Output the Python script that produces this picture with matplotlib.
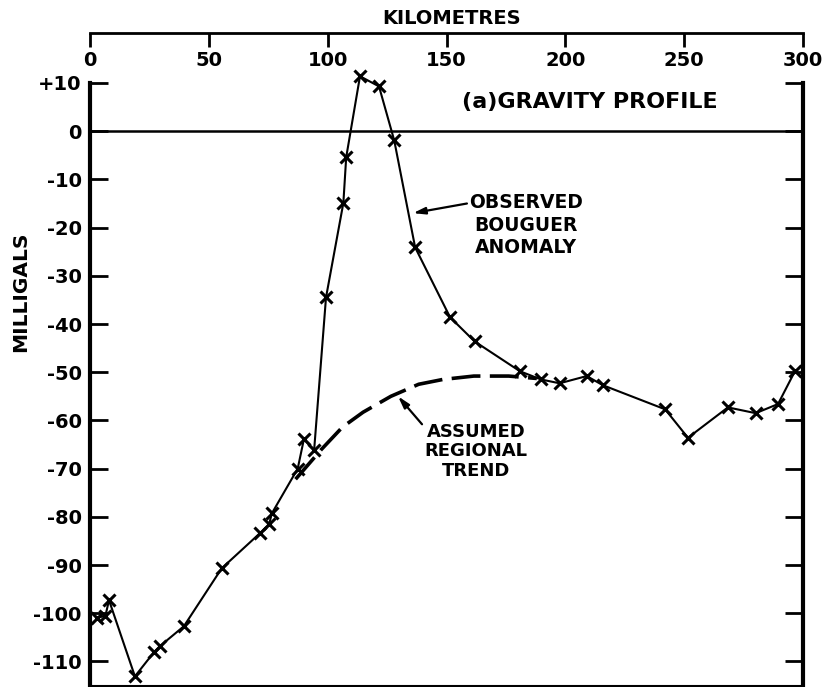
"""Gravity profile: observed Bouguer anomaly and assumed regional trend."""

import matplotlib
matplotlib.use("Agg")
import matplotlib.pyplot as plt

plt.rcParams["font.family"] = ["DejaVu Sans"]
plt.rcParams["font.weight"] = "bold"

# Observed Bouguer anomaly (km, mGal)
obs_km = [3.0, 6.5, 8.0, 18.9, 26.9, 29.5, 39.5, 55.4, 71.5, 75.4, 76.5,
          87.4, 90.0, 94.3, 99.3, 106.6, 107.8, 113.6, 121.6, 128.0, 136.8,
          151.5, 161.8, 180.9, 189.7, 197.6, 209.0, 215.8, 242.0, 251.6,
          268.4, 280.1, 289.5, 296.6]
obs_mgal = [-101.0, -100.5, -97.3, -113.1, -108.1, -106.8, -102.7, -90.7,
            -83.4, -81.5, -79.3, -70.0, -63.9, -66.2, -34.5, -14.9, -5.4,
            11.4, 9.3, -1.9, -24.1, -38.6, -43.6, -49.8, -51.5, -52.3,
            -50.8, -52.7, -57.7, -63.6, -57.3, -58.5, -56.6, -49.8]

# Assumed regional trend (dashed)
trend_km = [86.5, 97.4, 106.2, 114.9, 126.6, 138.3, 148.5, 161.5, 176.2, 188.0]
trend_mgal = [-72.2, -66.0, -61.4, -58.3, -55.0, -52.5, -51.5, -50.8, -50.8, -51.3]

y_ticks = list(range(-110, 11, 10))
y_labels = ["+10" if v > 0 else str(v) for v in y_ticks]
km_ticks = list(range(0, 301, 50))

W, H = 824, 687
fig = plt.figure(figsize=(W / 100, H / 100), dpi=100)

# main plot area
ax = fig.add_axes([90 / W, 1 / H, 713 / W, 603 / H])
ax.set_xlim(0, 300)
ax.set_ylim(-115.1, 10)

ax.axhline(0, color="k", lw=1.8)
ax.plot(trend_km, trend_mgal, color="k", lw=2.6, dashes=(8, 2.6),
        solid_capstyle="butt", dash_capstyle="butt")
ax.plot(obs_km, obs_mgal, color="k", lw=1.5, marker="x", ms=9, mew=2.2,
        clip_on=False)

ax.spines["top"].set_visible(False)
ax.spines["left"].set_linewidth(3)
ax.spines["right"].set_linewidth(3)
ax.spines["bottom"].set_linewidth(1.5)

ax.set_xticks([])
ax.set_yticks(y_ticks)
ax.set_yticklabels(y_labels)
ax.tick_params(axis="y", direction="in", length=13, width=2, right=True,
               labelright=False, labelsize=14, pad=6)

# annotations
ax.text(210.4, 6.0, "(a)GRAVITY PROFILE", fontsize=16, weight="bold",
        ha="center", va="center")
ax.annotate("", xy=(135.9, -17.0), xytext=(158.6, -15.0),
            arrowprops=dict(arrowstyle="-|>,head_length=0.7,head_width=0.2",
                            lw=1.6, color="k", shrinkA=0, shrinkB=0))
for label, yv in zip(["OBSERVED", "BOUGUER", "ANOMALY"], [-14.7, -19.5, -24.2]):
    ax.text(183.6, yv, label, fontsize=13.5, weight="bold", ha="center", va="center")

ax.annotate("", xy=(129.6, -55.0), xytext=(139.7, -60.8),
            arrowprops=dict(arrowstyle="-|>,head_length=0.7,head_width=0.2",
                            lw=1.6, color="k", shrinkA=0, shrinkB=0))
for label, yv in zip(["ASSUMED", "REGIONAL", "TREND"], [-62.4, -66.4, -70.4]):
    ax.text(162.4, yv, label, fontsize=13, weight="bold", ha="center", va="center")

# kilometre scale above the plot
ax_km = fig.add_axes([90 / W, 1 - 33 / H, 713 / W, 0.0001])
ax_km.set_xlim(0, 300)
ax_km.set_yticks([])
for side in ["top", "left", "right"]:
    ax_km.spines[side].set_visible(False)
ax_km.spines["bottom"].set_linewidth(2)
ax_km.set_xticks(km_ticks)
ax_km.tick_params(axis="x", direction="out", length=10, width=2,
                  labelsize=14, pad=3)
ax_km.patch.set_visible(False)

fig.text(452 / W, 1 - 19 / H, "KILOMETRES", fontsize=14, weight="bold",
         ha="center", va="center")
fig.text(21 / W, 1 - 292 / H, "MILLIGALS", fontsize=14.5, weight="bold",
         rotation=90, ha="center", va="center")

fig.savefig("out.png", dpi=100)
